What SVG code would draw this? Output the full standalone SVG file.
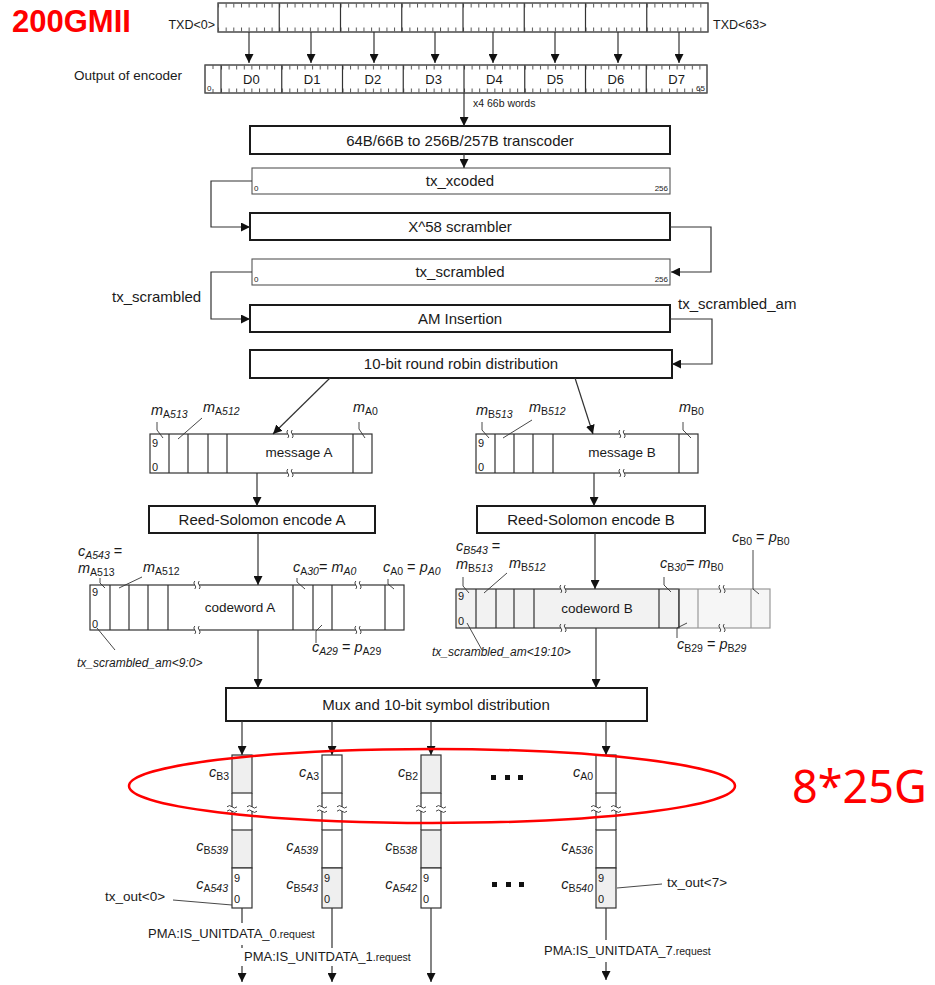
<svg xmlns="http://www.w3.org/2000/svg" width="935" height="985" viewBox="0 0 935 985">
<defs>
<style>
text{font-family:"Liberation Sans",Arial,sans-serif;fill:#1a1a1a}
.blk{fill:#fff;stroke:#1a1a1a;stroke-width:2}
.reg{fill:#fff;stroke:#555;stroke-width:1.1}
.cell{fill:#fff;stroke:#333;stroke-width:1.2}
.gcell{fill:#efefef;stroke:#333;stroke-width:1.2}
.ln{fill:none;stroke:#333;stroke-width:1.2}
.lt{fill:none;stroke:#999;stroke-width:1.2}
.ld{fill:none;stroke:#333;stroke-width:0.9}
.con{fill:none;stroke:#333;stroke-width:1.2;marker-end:url(#ah)}
.bx{font-size:15px;text-anchor:middle}
.m13{font-size:13.5px;text-anchor:middle}
.v{font-size:14.5px;font-style:italic}
.sb{font-size:10.5px}
.i{font-style:italic}
.n11{font-size:11px}
.n8{font-size:8px}
.lab{font-size:15px}
.pma{font-size:13px}
.rq{font-size:10.5px}
.r{text-anchor:end}
</style>
<marker id="ah" viewBox="0 0 10 10" refX="10" refY="5" markerWidth="9" markerHeight="9" markerUnits="userSpaceOnUse" orient="auto"><path d="M0,0 L10,5 L0,10 z" fill="#111"/></marker>
<pattern id="tkA" patternUnits="userSpaceOnUse" x="218" y="0" width="7.65625" height="40"><rect width="1" height="40" fill="#555"/></pattern>
<pattern id="tkB" patternUnits="userSpaceOnUse" x="221" y="0" width="7.59375" height="40"><rect width="1" height="40" fill="#555"/></pattern>
<g id="vb"><rect x="-2.2" y="-1.6" width="4.4" height="3.2" fill="#fff"/><path d="M-2.2,-4 q-2,2 0,4 t0,4 M2.2,-4 q-2,2 0,4 t0,4" fill="none" stroke="#333" stroke-width="0.9"/></g>
<g id="vbg"><rect x="-2.2" y="-1.6" width="4.4" height="3.2" fill="#f2f2f2"/><path d="M-2.2,-4 q-2,2 0,4 t0,4 M2.2,-4 q-2,2 0,4 t0,4" fill="none" stroke="#333" stroke-width="0.9"/></g>
<g id="hb"><rect x="-1.6" y="-2" width="3.2" height="4" fill="#fff"/><path d="M-5,-2.2 q2.5,-2.5 5,0 t5,0 M-5,2.2 q2.5,-2.5 5,0 t5,0" fill="none" stroke="#333" stroke-width="0.9"/></g>
</defs>
<rect width="935" height="985" fill="#fff"/>

<text x="12" y="32" style="font-size:31px;font-weight:bold;fill:#f00">200GMII</text>

<g id="txd">
<rect x="218" y="3" width="490" height="29" class="reg"/>
<rect x="218" y="3.5" width="490" height="4" fill="url(#tkA)"/>
<rect x="218" y="27.5" width="490" height="4" fill="url(#tkA)"/>
<path class="ln" d="M279.25,3V32M340.5,3V32M401.75,3V32M463,3V32M524.25,3V32M585.5,3V32M646.75,3V32"/>
<rect x="218" y="3" width="490" height="29" fill="none" stroke="#555" stroke-width="1.1"/>
<text x="215" y="29" class="r" style="font-size:12.5px">TXD&lt;0&gt;</text>
<text x="713" y="29" style="font-size:12.5px">TXD&lt;63&gt;</text>
</g>

<g id="encoder">
<text x="74" y="80" style="font-size:13.5px">Output of encoder</text>
<rect x="205" y="65" width="502" height="28" class="reg"/>
<rect x="221" y="65.5" width="486" height="4" fill="url(#tkB)"/>
<rect x="221" y="88.5" width="486" height="4" fill="url(#tkB)"/>
<path class="ln" d="M221,65V93M281.75,65V93M342.5,65V93M403.25,65V93M464,65V93M524.75,65V93M585.5,65V93M646.25,65V93"/>
<path d="M213,65V69M213,89V93" stroke="#555" stroke-width="1"/>
<rect x="205" y="65" width="502" height="28" fill="none" stroke="#555" stroke-width="1.1"/>
<text x="207" y="91" class="n8">0</text>
<text x="705" y="91" class="n8 r">65</text>
<g style="font-size:13px;text-anchor:middle">
<text x="251.4" y="84">D0</text><text x="312.1" y="84">D1</text><text x="372.9" y="84">D2</text><text x="433.6" y="84">D3</text>
<text x="494.4" y="84">D4</text><text x="555.1" y="84">D5</text><text x="615.9" y="84">D6</text><text x="676.6" y="84">D7</text>
</g>
<text x="473" y="107" style="font-size:10.5px">x4 66b words</text>
</g>

<g id="transcoder"><rect x="250" y="126" width="420" height="28" class="blk"/><text x="460" y="145.5" class="bx">64B/66B to 256B/257B transcoder</text></g>
<g id="tx_xcoded"><rect x="252" y="168" width="418" height="26" class="reg"/><text x="460" y="186" class="bx">tx_xcoded</text><text x="254" y="191" class="n8">0</text><text x="668" y="191" class="n8 r">256</text></g>
<g id="scrambler"><rect x="250" y="213" width="420" height="27" class="blk"/><text x="460" y="232" class="bx">X^58 scrambler</text></g>
<g id="tx_scrambled"><rect x="252" y="259" width="418" height="26" class="reg"/><text x="460" y="277" class="bx">tx_scrambled</text><text x="254" y="282" class="n8">0</text><text x="668" y="282" class="n8 r">256</text></g>
<text x="112" y="302" class="lab">tx_scrambled</text>
<g id="am"><rect x="250" y="305" width="420" height="27" class="blk"/><text x="460" y="324" class="bx">AM Insertion</text></g>
<text x="678" y="309" class="lab">tx_scrambled_am</text>
<g id="rr"><rect x="250" y="350" width="422" height="28" class="blk"/><text x="461" y="369" class="bx">10-bit round robin distribution</text></g>

<g id="msgA">
<rect x="150" y="434" width="222" height="39" class="cell"/>
<path class="ln" d="M169,434V473M188,434V473M208,434V473M227,434V473M353,434V473"/>
<use href="#vb" x="290" y="434"/><use href="#vb" x="290" y="473"/>
<text x="299" y="457" class="m13">message A</text>
<text x="152" y="447" class="n11">9</text><text x="152" y="471" class="n11">0</text>
<text x="151" y="415"><tspan class="v">m</tspan><tspan class="sb" dy="3">A</tspan><tspan class="sb i">513</tspan></text>
<text x="203" y="412"><tspan class="v">m</tspan><tspan class="sb" dy="3">A</tspan><tspan class="sb i">512</tspan></text>
<text x="353" y="412"><tspan class="v">m</tspan><tspan class="sb" dy="3">A0</tspan></text>
<path class="ld" d="M157,422V430L163,438M202,418L178,439M359,422V429L365,438"/>
</g>

<g id="msgB">
<rect x="476" y="434" width="222" height="39" class="cell"/>
<path class="ln" d="M495,434V473M514,434V473M533,434V473M553,434V473M679,434V473"/>
<use href="#vb" x="622" y="434"/><use href="#vb" x="622" y="473"/>
<text x="622" y="457" class="m13">message B</text>
<text x="478" y="447" class="n11">9</text><text x="478" y="471" class="n11">0</text>
<text x="476" y="415"><tspan class="v">m</tspan><tspan class="sb" dy="3">B</tspan><tspan class="sb i">513</tspan></text>
<text x="529" y="412"><tspan class="v">m</tspan><tspan class="sb" dy="3">B</tspan><tspan class="sb i">512</tspan></text>
<text x="679" y="412"><tspan class="v">m</tspan><tspan class="sb" dy="3">B0</tspan></text>
<path class="ld" d="M482,422V430L489,438M532,420L503,438M683,422V430L691,438"/>
</g>

<g id="rsA"><rect x="149" y="506" width="226" height="27" class="blk"/><text x="262" y="525" class="bx">Reed-Solomon encode A</text></g>
<g id="rsB"><rect x="477" y="506" width="228" height="27" class="blk"/><text x="591" y="525" class="bx">Reed-Solomon encode B</text></g>

<g id="cwA">
<rect x="90" y="585" width="314" height="45" class="cell"/>
<path class="ln" d="M110,585V630M129,585V630M148,585V630M168,585V630M293,585V630M313,585V630M332,585V630M385,585V630"/>
<use href="#vb" x="197" y="585"/><use href="#vb" x="197" y="630"/><use href="#vb" x="358" y="585"/><use href="#vb" x="358" y="630"/>
<text x="240" y="612" class="m13">codeword A</text>
<text x="92" y="596" class="n11">9</text><text x="92" y="628" class="n11">0</text>
<text x="78" y="556"><tspan class="v">c</tspan><tspan class="sb i" dy="3">A543</tspan><tspan class="v" dy="-3" style="font-style:normal"> =</tspan></text>
<text x="78" y="573"><tspan class="v">m</tspan><tspan class="sb" dy="3">A513</tspan></text>
<text x="143" y="572"><tspan class="v">m</tspan><tspan class="sb" dy="3">A512</tspan></text>
<text x="293" y="572"><tspan class="v">c</tspan><tspan class="sb" dy="3">A</tspan><tspan class="sb i">30</tspan><tspan class="v" dy="-3" style="font-style:normal">= </tspan><tspan class="v">m</tspan><tspan class="sb i" dy="3">A0</tspan></text>
<text x="383" y="572"><tspan class="v">c</tspan><tspan class="sb" dy="3">A0</tspan><tspan class="v" dy="-3" style="font-style:normal"> = </tspan><tspan class="v">p</tspan><tspan class="sb i" dy="3">A0</tspan></text>
<text x="312" y="652"><tspan class="v">c</tspan><tspan class="sb i" dy="3">A29</tspan><tspan class="v" dy="-3" style="font-style:normal"> = </tspan><tspan class="v">p</tspan><tspan class="sb" dy="3">A29</tspan></text>
<text x="77" y="667" class="i" style="font-size:12px">tx_scrambled_am&lt;9:0&gt;</text>
<path class="ld" d="M100,578V583L105,588M142,577L119,588M297,578V582L305,589M388,579V584L394,589M322,625L316,631V643M97,628L115,650"/>
</g>

<g id="cwB">
<rect x="456" y="589" width="223" height="39" fill="#f2f2f2" stroke="#333" stroke-width="1.2"/>
<rect x="679" y="589" width="91" height="39" fill="#f6f6f6" stroke="#999" stroke-width="1.2"/>
<path class="ln" d="M476,589V628M496,589V628M514,589V628M534,589V628M659,589V628M679,589V628"/>
<path class="lt" d="M698,589V628M751,589V628"/>
<use href="#vbg" x="563" y="589"/><use href="#vbg" x="563" y="628"/><use href="#vbg" x="722" y="589"/><use href="#vbg" x="722" y="628"/>
<text x="597" y="613" class="m13">codeword B</text>
<text x="458" y="600" class="n11">9</text><text x="458" y="625" class="n11">0</text>
<text x="456" y="551"><tspan class="v">c</tspan><tspan class="sb i" dy="3">B543</tspan><tspan class="v" dy="-3" style="font-style:normal"> =</tspan></text>
<text x="456" y="569"><tspan class="v">m</tspan><tspan class="sb" dy="3">B</tspan><tspan class="sb i">513</tspan></text>
<text x="509" y="568"><tspan class="v">m</tspan><tspan class="sb" dy="3">B</tspan><tspan class="sb i">512</tspan></text>
<text x="660" y="568"><tspan class="v">c</tspan><tspan class="sb" dy="3">B</tspan><tspan class="sb i">30</tspan><tspan class="v" dy="-3" style="font-style:normal">= </tspan><tspan class="v">m</tspan><tspan class="sb" dy="3">B0</tspan></text>
<text x="732" y="542"><tspan class="v">c</tspan><tspan class="sb" dy="3">B0</tspan><tspan class="v" dy="-3" style="font-style:normal"> = </tspan><tspan class="v">p</tspan><tspan class="sb" dy="3">B0</tspan></text>
<text x="677" y="649"><tspan class="v">c</tspan><tspan class="sb" dy="3">B29</tspan><tspan class="v" dy="-3" style="font-style:normal"> = </tspan><tspan class="v">p</tspan><tspan class="sb" dy="3">B</tspan><tspan class="sb i">29</tspan></text>
<text x="432" y="656" class="i" style="font-size:12px">tx_scrambled_am&lt;19:10&gt;</text>
<path class="ld" d="M463,577V586L469,593M507,573L484,593M664,577V585L671,592M753,550V589L759,594M687,623L677,628V638M467,623L482,650"/>
</g>

<g id="mux"><rect x="226" y="688" width="421" height="33" class="blk"/><text x="436" y="710" class="bx">Mux and 10-bit symbol distribution</text></g>

<g id="lane0">
<rect x="232" y="755" width="20" height="38" class="gcell"/>
<path class="ln" d="M232,793V830M252,793V830"/>
<rect x="232" y="830" width="20" height="38" class="gcell"/>
<rect x="232" y="868" width="20" height="40" class="cell"/>
<use href="#hb" x="232" y="809"/><use href="#hb" x="252" y="809"/>
<text x="234" y="882" class="n11">9</text><text x="234" y="903" class="n11">0</text>
<text x="229" y="777" class="r"><tspan class="v">c</tspan><tspan class="sb" dy="3">B3</tspan></text>
<text x="228" y="851" class="r"><tspan class="v">c</tspan><tspan class="sb" dy="3">B</tspan><tspan class="sb i">539</tspan></text>
<text x="228" y="889" class="r"><tspan class="v">c</tspan><tspan class="sb" dy="3">A</tspan><tspan class="sb i">543</tspan></text>
</g>
<g id="lane1">
<rect x="322" y="755" width="20" height="38" class="cell"/>
<path class="ln" d="M322,793V830M342,793V830"/>
<rect x="322" y="830" width="20" height="38" class="cell"/>
<rect x="322" y="868" width="20" height="40" class="gcell"/>
<use href="#hb" x="322" y="809"/><use href="#hb" x="342" y="809"/>
<text x="324" y="882" class="n11">9</text><text x="324" y="903" class="n11">0</text>
<text x="319" y="777" class="r"><tspan class="v">c</tspan><tspan class="sb" dy="3">A3</tspan></text>
<text x="318" y="851" class="r"><tspan class="v">c</tspan><tspan class="sb i" dy="3">A539</tspan></text>
<text x="318" y="889" class="r"><tspan class="v">c</tspan><tspan class="sb" dy="3">B</tspan><tspan class="sb i">543</tspan></text>
</g>
<g id="lane2">
<rect x="421" y="755" width="20" height="38" class="gcell"/>
<path class="ln" d="M421,793V830M441,793V830"/>
<rect x="421" y="830" width="20" height="38" class="gcell"/>
<rect x="421" y="868" width="20" height="40" class="cell"/>
<use href="#hb" x="421" y="809"/><use href="#hb" x="441" y="809"/>
<text x="423" y="882" class="n11">9</text><text x="423" y="903" class="n11">0</text>
<text x="418" y="777" class="r"><tspan class="v">c</tspan><tspan class="sb" dy="3">B2</tspan></text>
<text x="417" y="851" class="r"><tspan class="v">c</tspan><tspan class="sb" dy="3">B</tspan><tspan class="sb i">538</tspan></text>
<text x="417" y="889" class="r"><tspan class="v">c</tspan><tspan class="sb" dy="3">A</tspan><tspan class="sb i">542</tspan></text>
</g>
<g id="lane7">
<rect x="596" y="755" width="20" height="38" class="cell"/>
<path class="ln" d="M596,793V830M616,793V830"/>
<rect x="596" y="830" width="20" height="38" class="cell"/>
<rect x="596" y="868" width="20" height="40" class="gcell"/>
<use href="#hb" x="596" y="809"/><use href="#hb" x="616" y="809"/>
<text x="598" y="882" class="n11">9</text><text x="598" y="903" class="n11">0</text>
<text x="593" y="777" class="r"><tspan class="v">c</tspan><tspan class="sb" dy="3">A0</tspan></text>
<text x="593" y="851" class="r"><tspan class="v">c</tspan><tspan class="sb" dy="3">A</tspan><tspan class="sb i">536</tspan></text>
<text x="593" y="889" class="r"><tspan class="v">c</tspan><tspan class="sb" dy="3">B</tspan><tspan class="sb i">540</tspan></text>
</g>

<g id="dots" fill="#111">
<rect x="491" y="775" width="5" height="5"/><rect x="505" y="775" width="5" height="5"/><rect x="518" y="775" width="5" height="5"/>
<rect x="492" y="882" width="5" height="5"/><rect x="506" y="882" width="5" height="5"/><rect x="519" y="882" width="5" height="5"/>
</g>

<g id="outlabels">
<text x="105" y="901" style="font-size:13.5px">tx_out&lt;0&gt;</text>
<text x="667" y="887" style="font-size:13.5px">tx_out&lt;7&gt;</text>
<path class="ld" d="M173,900L232,905M617,888L662,884"/>
<text x="148" y="938" class="pma">PMA:IS_UNITDATA_0<tspan class="rq">.request</tspan></text>
<text x="244" y="961" class="pma">PMA:IS_UNITDATA_1<tspan class="rq">.request</tspan></text>
<text x="544" y="955" class="pma">PMA:IS_UNITDATA_7<tspan class="rq">.request</tspan></text>
</g>

<g id="connectors">
<path class="con" d="M249,32V63"/><path class="con" d="M311,32V63"/><path class="con" d="M374,32V63"/><path class="con" d="M435,32V63"/>
<path class="con" d="M493,32V63"/><path class="con" d="M555,32V63"/><path class="con" d="M618,32V63"/><path class="con" d="M679,32V63"/>
<path class="con" d="M464,93V126"/>
<path class="con" d="M464,154V168"/>
<path class="con" d="M252,181H211V227H250"/>
<path class="con" d="M670,227H711V272H671"/>
<path class="con" d="M252,272H211V319H250"/>
<path class="con" d="M670,319H712V364H672"/>
<path class="con" d="M330,378L273,434"/>
<path class="con" d="M575,378L593,434"/>
<path class="con" d="M257,473V506"/>
<path class="con" d="M594,473V506"/>
<path class="con" d="M258,533V585"/>
<path class="con" d="M595,533V589"/>
<path class="con" d="M258,630V688"/>
<path class="con" d="M596,628V688"/>
<path class="con" d="M242,721V755"/><path class="con" d="M332,721V755"/><path class="con" d="M431,721V755"/><path class="con" d="M606,721V755"/>
<path class="ln" d="M242,908V923M242,945V948M332,908V948M606,908V940"/>
<path class="con" d="M242,966V982"/>
<path class="con" d="M332,966V982"/>
<path class="con" d="M431,908V982"/>
<path class="con" d="M606,962V980"/>
</g>

<ellipse cx="432" cy="786" rx="303" ry="37" fill="none" stroke="#f00" stroke-width="2.5"/>
<text x="792" y="803" style="font-family:'Noto Sans','Open Sans',sans-serif;font-size:45px;fill:#f00">8*25G</text>
</svg>
